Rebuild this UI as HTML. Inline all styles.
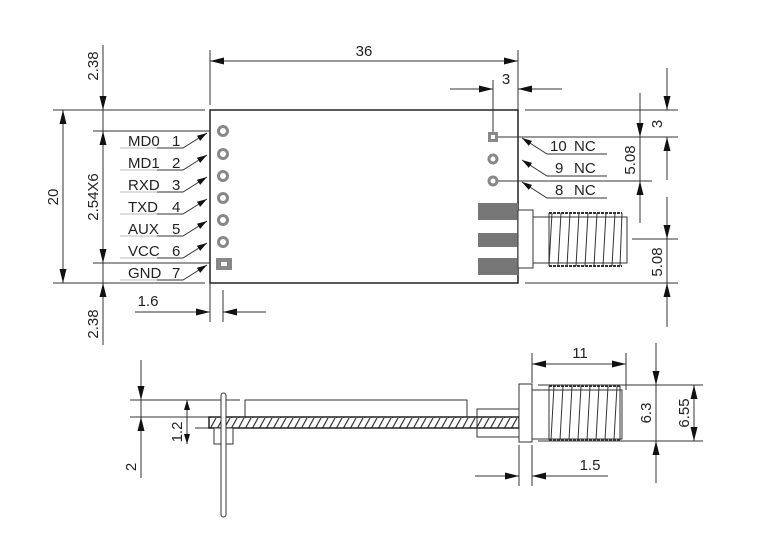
<!DOCTYPE html>
<html><head><meta charset="utf-8"><style>
html,body{margin:0;padding:0;background:#fff;}
svg{display:block;}
text{font-family:"Liberation Sans",sans-serif;font-size:15px;fill:#222;}
</style></head><body>
<svg width="776" height="534" viewBox="0 0 776 534" xmlns="http://www.w3.org/2000/svg">
<defs>
<marker id="a" viewBox="0 0 14 7" refX="14" refY="3.5" markerWidth="14" markerHeight="7" orient="auto-start-reverse" markerUnits="userSpaceOnUse"><path d="M0,0L14,3.5L0,7z" fill="#111"/></marker>
<marker id="s" viewBox="0 0 10 6" refX="10" refY="3" markerWidth="10" markerHeight="6" orient="auto" markerUnits="userSpaceOnUse"><path d="M0,0L10,3L0,6z" fill="#111"/></marker>
<pattern id="h" width="7" height="11" patternUnits="userSpaceOnUse"><path d="M0,11L6,0" stroke="#333" stroke-width="1.2"/></pattern>
</defs>
<g stroke="#333" stroke-width="1" fill="none">
<path d="M210,110H518V283H210Z" stroke="#222" stroke-width="1.5"/>
<path d="M53,110H205M53,283H205M93,131H210M93,263H210"/>
<line x1="63" y1="110" x2="63" y2="283" marker-start="url(#a)" marker-end="url(#a)"/>
<line x1="103" y1="45" x2="103" y2="110" marker-end="url(#a)"/>
<line x1="103" y1="110" x2="103" y2="283"/>
<line x1="103" y1="131" x2="103" y2="263" marker-start="url(#a)" marker-end="url(#a)"/>
<line x1="103" y1="345" x2="103" y2="283" marker-end="url(#a)"/>
<path d="M210,283V322M223,290V322"/>
<line x1="135" y1="312" x2="210" y2="312" marker-end="url(#a)"/>
<line x1="266" y1="312" x2="223" y2="312" marker-end="url(#a)"/>
<path d="M210,50V105M518,50V110"/>
<line x1="210" y1="61" x2="518" y2="61" marker-start="url(#a)" marker-end="url(#a)"/>
<path d="M493,80V137"/>
<line x1="450" y1="89" x2="493" y2="89" marker-end="url(#a)"/>
<line x1="562" y1="89" x2="518" y2="89" marker-end="url(#a)"/>
<path d="M525,110H678M493,137H678M493,181H652M632,239H678M525,283H678"/>
<line x1="640" y1="93" x2="640" y2="137" marker-end="url(#a)"/>
<line x1="640" y1="137" x2="640" y2="181"/>
<line x1="640" y1="223" x2="640" y2="181" marker-end="url(#a)"/>
<line x1="667" y1="68" x2="667" y2="110" marker-end="url(#a)"/>
<line x1="667" y1="180" x2="667" y2="137" marker-end="url(#a)"/>
<line x1="667" y1="197" x2="667" y2="239" marker-end="url(#a)"/>
<line x1="667" y1="239" x2="667" y2="283"/>
<line x1="667" y1="327" x2="667" y2="283" marker-end="url(#a)"/>
<g>
<path d="M120,148H157" stroke="#bbb"/><polyline points="157,148 183,148 207,133" marker-end="url(#s)"/>
<path d="M120,170H157" stroke="#bbb"/><polyline points="157,170 183,170 207,155" marker-end="url(#s)"/>
<path d="M120,192H157" stroke="#bbb"/><polyline points="157,192 183,192 207,177" marker-end="url(#s)"/>
<path d="M120,214H157" stroke="#bbb"/><polyline points="157,214 183,214 207,199" marker-end="url(#s)"/>
<path d="M120,236H157" stroke="#bbb"/><polyline points="157,236 183,236 207,221" marker-end="url(#s)"/>
<path d="M120,258H157" stroke="#bbb"/><polyline points="157,258 183,258 207,243" marker-end="url(#s)"/>
<path d="M120,280H157" stroke="#bbb"/><polyline points="157,280 183,280 207,265" marker-end="url(#s)"/>
</g>
<polyline points="607,154 547,154 522,138" marker-end="url(#s)"/>
<polyline points="607,176 547,176 522,160" marker-end="url(#s)"/>
<polyline points="607,198 547,198 522,182" marker-end="url(#s)"/>
<g stroke="#888" stroke-width="3" fill="#fff">
<circle cx="223" cy="131" r="4.5"/><circle cx="223" cy="154" r="4.5"/><circle cx="223" cy="176" r="4.5"/>
<circle cx="223" cy="198" r="4.5"/><circle cx="223" cy="220" r="4.5"/><circle cx="223" cy="242" r="4.5"/>
<circle cx="493" cy="159" r="4"/><circle cx="493" cy="181" r="4"/>
</g>
<rect x="216" y="258" width="16" height="12" fill="#888" stroke="none"/><rect x="221" y="262" width="6" height="4" fill="#fff" stroke="none"/>
<rect x="488" y="132" width="10" height="10" fill="#888" stroke="none"/><rect x="491" y="135" width="4" height="4" fill="#fff" stroke="none"/>
<g fill="#777" stroke="none"><rect x="478" y="203" width="40" height="17"/><rect x="478" y="233" width="40" height="14"/><rect x="478" y="258" width="40" height="17"/></g>
<rect x="518" y="210" width="15" height="58" fill="#fff"/>
<rect x="533" y="217" width="94" height="46" fill="#fff"/>
<g stroke="#333">
<path d="M549,213H622M549,266H622" stroke-width="2" stroke-dasharray="3,1"/>
<path d="M549,213V266M552,213L549,266M561,213L558,266M570,213L567,266M579,213L576,266M588,213L585,266M597,213L594,266M606,213L603,266M615,213L612,266M622,213L620,266"/>
</g>
<path d="M141,360V400" marker-end="url(#a)"/>
<line x1="141" y1="478" x2="141" y2="417" marker-end="url(#a)"/>
<line x1="141" y1="400" x2="141" y2="417"/>
<path d="M130,400H240M130,417H210M195,428H210"/>
<line x1="187" y1="414" x2="187" y2="400" marker-end="url(#s)"/>
<line x1="187" y1="414" x2="187" y2="444" marker-end="url(#s)"/>
<path d="M245,417V400H467V417"/>
<rect x="209" y="417" width="310" height="11" fill="url(#h)" stroke="#222" stroke-width="1.5"/>
<rect x="214" y="428" width="19" height="16" fill="#fff"/>
<rect x="221" y="393" width="5" height="124" rx="2.5" fill="#fff"/>
<path d="M519,409H477V437H519"/>
<rect x="519" y="384" width="13" height="58" fill="#fff"/>
<rect x="532" y="390" width="90" height="49" fill="#fff"/>
<path d="M538,385H703M538,441H703"/>
<g>
<path d="M549,386H620M549,440H620" stroke-width="2" stroke-dasharray="3,1"/>
<path d="M549,386V440M554,386L551,440M563,386L560,440M572,386L569,440M581,386L578,440M590,386L587,440M599,386L596,440M608,386L605,440M617,386L614,440M620,386V440"/>
</g>
<path d="M532,353V383M626,353V390"/>
<line x1="579" y1="364" x2="532" y2="364" marker-end="url(#a)"/>
<line x1="579" y1="364" x2="626" y2="364" marker-end="url(#a)"/>
<line x1="656" y1="343" x2="656" y2="385" marker-end="url(#a)"/>
<line x1="656" y1="385" x2="656" y2="441"/>
<line x1="656" y1="483" x2="656" y2="441" marker-end="url(#a)"/>
<line x1="694" y1="413" x2="694" y2="385" marker-end="url(#a)"/>
<line x1="694" y1="413" x2="694" y2="441" marker-end="url(#a)"/>
<path d="M519,445V486M532,445V486"/>
<line x1="475" y1="476" x2="519" y2="476" marker-end="url(#a)"/>
<line x1="608" y1="476" x2="532" y2="476" marker-end="url(#a)"/>
</g>
<text x="364" y="56" text-anchor="middle">36</text>
<text x="506" y="84" text-anchor="middle">3</text>
<text x="148" y="306" text-anchor="middle">1.6</text>
<g>
<text x="128" y="146">MD0</text><text x="172" y="146">1</text>
<text x="128" y="168">MD1</text><text x="172" y="168">2</text>
<text x="128" y="190">RXD</text><text x="172" y="190">3</text>
<text x="128" y="212">TXD</text><text x="172" y="212">4</text>
<text x="128" y="234">AUX</text><text x="172" y="234">5</text>
<text x="128" y="256">VCC</text><text x="172" y="256">6</text>
<text x="128" y="278">GND</text><text x="172" y="278">7</text>
<text x="550" y="151">10</text><text x="574" y="151">NC</text>
<text x="555" y="173">9</text><text x="574" y="173">NC</text>
<text x="555" y="195">8</text><text x="574" y="195">NC</text>
</g>
<text transform="translate(98,66) rotate(-90)" text-anchor="middle">2.38</text>
<text transform="translate(58,197) rotate(-90)" text-anchor="middle">20</text>
<text transform="translate(98,197) rotate(-90)" text-anchor="middle">2.54X6</text>
<text transform="translate(98,324) rotate(-90)" text-anchor="middle">2.38</text>
<text transform="translate(635,160) rotate(-90)" text-anchor="middle">5.08</text>
<text transform="translate(662,124) rotate(-90)" text-anchor="middle">3</text>
<text transform="translate(662,262) rotate(-90)" text-anchor="middle">5.08</text>
<text x="580" y="358" text-anchor="middle">11</text>
<text x="590" y="470" text-anchor="middle">1.5</text>
<text transform="translate(136,467) rotate(-90)" text-anchor="middle">2</text>
<text transform="translate(182,432) rotate(-90)" text-anchor="middle">1.2</text>
<text transform="translate(651,413) rotate(-90)" text-anchor="middle">6.3</text>
<text transform="translate(689,413) rotate(-90)" text-anchor="middle">6.55</text>
</svg>
</body></html>
